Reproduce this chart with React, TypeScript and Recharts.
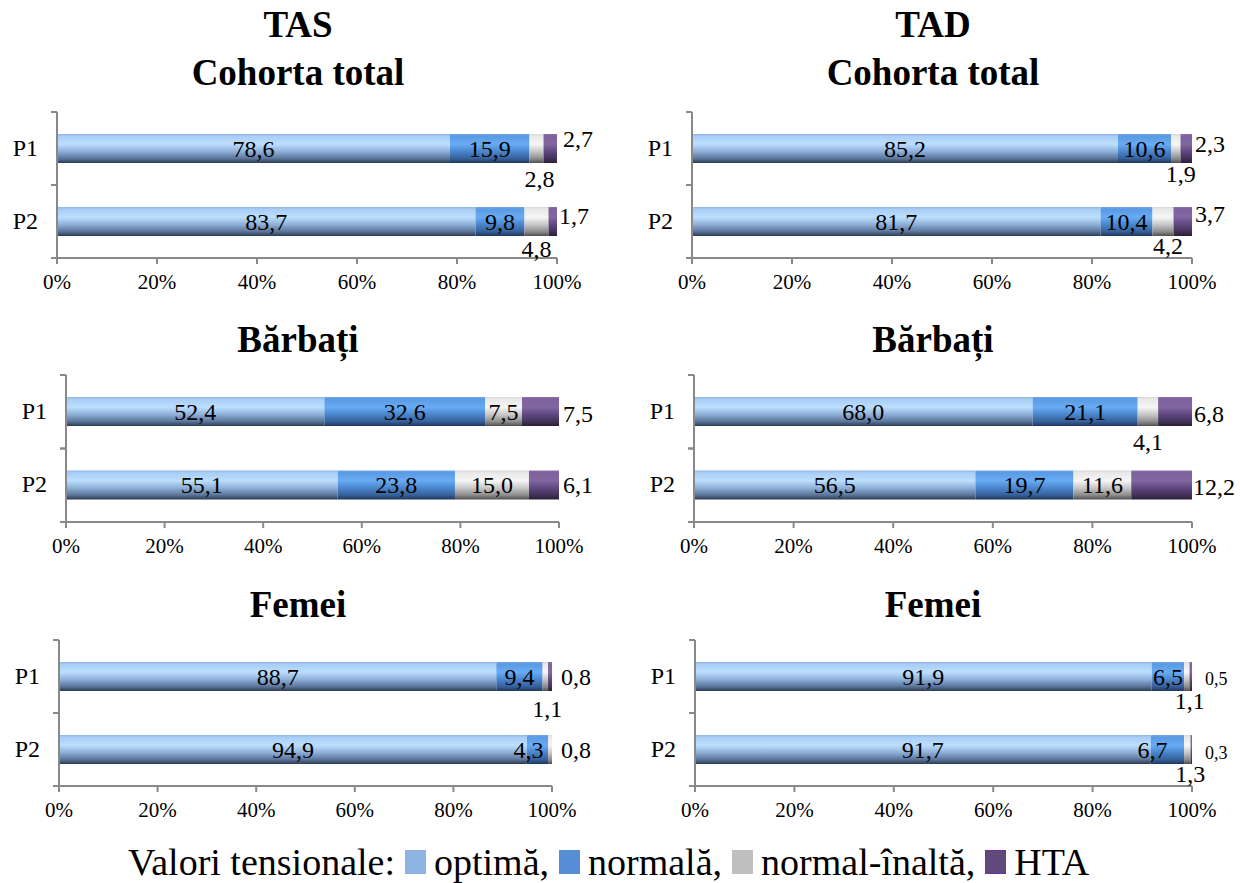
import React from "react"
import { BarChart, Bar, XAxis, YAxis, LabelList } from "recharts"

const periods = ["P1", "P2"]
const seriesNames = ["optimă", "normală", "normal-înaltă", "HTA"]
const xTicks = [0, 20, 40, 60, 80, 100]

// values per period: optimă, normală, normal-înaltă, HTA
const tasTotalP1 = [78.6, 15.9, 2.8, 2.7]
const tasTotalP2 = [83.7, 9.8, 4.8, 1.7]
const tadTotalP1 = [85.2, 10.6, 1.9, 2.3]
const tadTotalP2 = [81.7, 10.4, 4.2, 3.7]
const tasBarbatiP1 = [52.4, 32.6, 7.5, 7.5]
const tasBarbatiP2 = [55.1, 23.8, 15.0, 6.1]
const tadBarbatiP1 = [68.0, 21.1, 4.1, 6.8]
const tadBarbatiP2 = [56.5, 19.7, 11.6, 12.2]
const tasFemeiP1 = [88.7, 9.4, 1.1, 0.8]
const tasFemeiP2 = [94.9, 4.3, 0.8, 0]
const tadFemeiP1 = [91.9, 6.5, 1.1, 0.5]
const tadFemeiP2 = [91.7, 6.7, 1.3, 0.3]

const FONT = "Liberation Serif"
const AXIS = "#898989"

const LEGEND_COLORS = ["#8db4e3", "#558ed5", "#bfbfbf", "#604a7b"]

// gradient stops per series (top -> bottom)
const GRADIENTS = [
  ["#8eb4e3", "#a9cdf5", "#bcdfff", "#8fb0d8", "#5a7499", "#2b3a52"],
  ["#6ea6e6", "#5a9ae2", "#68acf5", "#4b86cc", "#35609a", "#1f3658"],
  ["#d9d9d9", "#e8e8e8", "#f6f6f6", "#c8c8c8", "#8c8c8c", "#4f4f4f"],
  ["#8a72aa", "#7c619e", "#82679f", "#5f4880", "#433158", "#2a1e38"],
]
const STOPS = [0, 0.08, 0.35, 0.6, 0.85, 1]

type Place = { pos: "in" | "below" | "right" | "none"; dx?: number; dy?: number; size?: number }
const IN: Place = { pos: "in" }
const NONE: Place = { pos: "none" }

const tasTotalLabels: Place[][] = [
  [IN, IN, { pos: "below", dx: 3, dy: 16 }, { pos: "right", dx: 6, dy: -10 }],
  [IN, IN, { pos: "below", dx: 0, dy: 13 }, { pos: "right", dx: 2, dy: -6 }],
]
const tadTotalLabels: Place[][] = [
  [IN, IN, { pos: "below", dx: 5, dy: 11 }, { pos: "right", dx: 3, dy: -5 }],
  [IN, IN, { pos: "below", dx: 5, dy: 10 }, { pos: "right", dx: 3, dy: -8 }],
]
const tasBarbatiLabels: Place[][] = [
  [IN, IN, IN, { pos: "right", dx: 4, dy: 2 }],
  [IN, IN, IN, { pos: "right", dx: 4, dy: 0 }],
]
const tadBarbatiLabels: Place[][] = [
  [IN, IN, { pos: "below", dx: 0, dy: 16 }, { pos: "right", dx: 2, dy: 2 }],
  [IN, IN, IN, { pos: "right", dx: 1, dy: 2 }],
]
const tasFemeiLabels: Place[][] = [
  [IN, IN, { pos: "below", dx: 2, dy: 18 }, { pos: "right", dx: 9, dy: 0 }],
  [IN, { pos: "in", dx: -9 }, { pos: "right", dx: 9, dy: 0 }, NONE],
]
const tadFemeiLabels: Place[][] = [
  [IN, IN, { pos: "below", dx: 3, dy: 10 }, { pos: "right", dx: 13, dy: 2, size: 18 }],
  [IN, { pos: "in", dx: -15 }, { pos: "below", dx: 3, dy: 10 }, { pos: "right", dx: 13, dy: 3, size: 18 }],
]

const fmt = (v: number) => v.toFixed(1).replace(".", ",")

interface PanelProps {
  id: string
  left: number
  plotLeft: number
  plotRight: number
  plotTop: number
  plotBottom: number
  p1: number[]
  p2: number[]
  labels: Place[][]
}

function Panel({ id, left, plotLeft, plotRight, plotTop, plotBottom, p1, p2, labels }: PanelProps) {
  const chartTop = plotTop - 10
  const xAxisH = 40
  const height = plotBottom - chartTop + xAxisH
  const axisX = plotLeft - left
  const band = (plotBottom - plotTop) / periods.length
  const rows = [p1, p2]
  const data = periods.map((name, i) => ({
    name,
    s0: rows[i][0],
    s1: rows[i][1],
    s2: rows[i][2],
    s3: rows[i][3],
  }))

  const renderLabel = (si: number) => (props: any) => {
    const { x, y, width, height: h, value, index } = props
    const pl = labels[index][si]
    if (!pl || pl.pos === "none" || !value) return null
    const size = pl.size || 24
    let tx = x + width / 2 + (pl.dx || 0)
    let ty = y + h / 2 + (pl.dy || 0)
    let anchor: "middle" | "start" = "middle"
    if (pl.pos === "below") {
      ty = y + h + (pl.dy || 0)
    } else if (pl.pos === "right") {
      tx = x + width + (pl.dx || 0)
      anchor = "start"
    }
    return (
      <text
        key={`${si}-${index}`}
        x={tx}
        y={ty}
        textAnchor={anchor}
        dominantBaseline="central"
        fontFamily={FONT}
        fontSize={size}
        fill="#000"
      >
        {fmt(value)}
      </text>
    )
  }

  const yTick = (props: any) => {
    const { y, payload, index } = props
    return (
      <g key={`t-${index}`}>
        <text
          x={axisX - 19}
          y={y - 1}
          textAnchor="end"
          dominantBaseline="central"
          fontFamily={FONT}
          fontSize={24}
          fill="#000"
        >
          {payload.value}
        </text>
        <line x1={axisX - 6} x2={axisX} y1={y - band / 2} y2={y - band / 2} stroke={AXIS} strokeWidth={2} />
        <line x1={axisX - 6} x2={axisX} y1={y + band / 2} y2={y + band / 2} stroke={AXIS} strokeWidth={2} />
      </g>
    )
  }

  return (
    <div style={{ position: "absolute", left, top: chartTop }}>
      <BarChart
        width={620}
        height={height}
        data={data}
        layout="vertical"
        margin={{ top: 10, right: left + 620 - plotRight, bottom: 0, left: 0 }}
        barCategoryGap={0}
      >
        <defs>
          {GRADIENTS.map((g, gi) => (
            <linearGradient key={gi} id={`${id}-g${gi}`} x1="0" y1="0" x2="0" y2="1">
              {g.map((c, ci) => (
                <stop key={ci} offset={STOPS[ci]} stopColor={c} />
              ))}
            </linearGradient>
          ))}
        </defs>
        <XAxis
          type="number"
          domain={[0, 100]}
          ticks={xTicks}
          tickFormatter={(v) => `${v}%`}
          height={xAxisH}
          axisLine={{ stroke: AXIS, strokeWidth: 2 }}
          tickLine={{ stroke: AXIS, strokeWidth: 2 }}
          tickSize={6}
          tickMargin={10}
          tick={{ fill: "#000", fontSize: 21, fontFamily: FONT }}
          allowDataOverflow
        />
        <YAxis
          type="category"
          dataKey="name"
          width={axisX}
          axisLine={{ stroke: AXIS, strokeWidth: 2 }}
          tickLine={false}
          tick={yTick}
        />
        {seriesNames.map((s, si) => (
          <Bar
            key={s}
            dataKey={`s${si}`}
            name={s}
            stackId="a"
            barSize={29}
            fill={`url(#${id}-g${si})`}
            isAnimationActive={false}
          >
            <LabelList dataKey={`s${si}`} content={renderLabel(si)} />
          </Bar>
        ))}
      </BarChart>
    </div>
  )
}

function Title({ lines, center, top }: { lines: string[]; center: number; top: number }) {
  return (
    <div
      style={{
        position: "absolute",
        left: center - 300,
        top,
        width: 600,
        textAlign: "center",
        fontFamily: FONT,
        fontWeight: "bold",
        fontSize: 37,
        lineHeight: "48px",
      }}
    >
      {lines.map((l) => (
        <div key={l}>{l}</div>
      ))}
    </div>
  )
}

export default function App() {
  return (
    <div style={{ position: "absolute", left: 0, top: 0, width: 1240, height: 883, background: "#fff" }}>
      <Title lines={["TAS", "Cohorta total"]} center={298} top={1} />
      <Title lines={["TAD", "Cohorta total"]} center={933} top={1} />
      <Title lines={["Bărbați"]} center={298} top={316} />
      <Title lines={["Bărbați"]} center={933} top={316} />
      <Title lines={["Femei"]} center={298} top={581} />
      <Title lines={["Femei"]} center={933} top={581} />

      <Panel id="a" left={0} plotLeft={57} plotRight={557} plotTop={112} plotBottom={258} p1={tasTotalP1} p2={tasTotalP2} labels={tasTotalLabels} />
      <Panel id="b" left={620} plotLeft={692} plotRight={1192} plotTop={112} plotBottom={258} p1={tadTotalP1} p2={tadTotalP2} labels={tadTotalLabels} />
      <Panel id="c" left={0} plotLeft={66} plotRight={559} plotTop={375} plotBottom={522} p1={tasBarbatiP1} p2={tasBarbatiP2} labels={tasBarbatiLabels} />
      <Panel id="d" left={620} plotLeft={694} plotRight={1192} plotTop={375} plotBottom={522} p1={tadBarbatiP1} p2={tadBarbatiP2} labels={tadBarbatiLabels} />
      <Panel id="e" left={0} plotLeft={59} plotRight={552} plotTop={640} plotBottom={786} p1={tasFemeiP1} p2={tasFemeiP2} labels={tasFemeiLabels} />
      <Panel id="f" left={620} plotLeft={695} plotRight={1192} plotTop={640} plotBottom={786} p1={tadFemeiP1} p2={tadFemeiP2} labels={tadFemeiLabels} />

      <div
        style={{
          position: "absolute",
          left: 128,
          top: 839,
          fontFamily: FONT,
          fontSize: 38,
          lineHeight: "46px",
          whiteSpace: "nowrap",
          display: "flex",
          alignItems: "center",
        }}
      >
        <span>Valori tensionale:</span>
        {seriesNames.map((s, i) => (
          <span key={s} style={{ display: "inline-flex", alignItems: "center" }}>
            <span
              style={{
                display: "inline-block",
                width: 21,
                height: 24,
                margin: "0 8px 0 10px",
                background: LEGEND_COLORS[i],
                border: i === 3 ? "1px solid #7030a0" : "none",
                boxSizing: "border-box",
              }}
            />
            <span>{s + (i < seriesNames.length - 1 ? "," : "")}</span>
          </span>
        ))}
      </div>
    </div>
  )
}
